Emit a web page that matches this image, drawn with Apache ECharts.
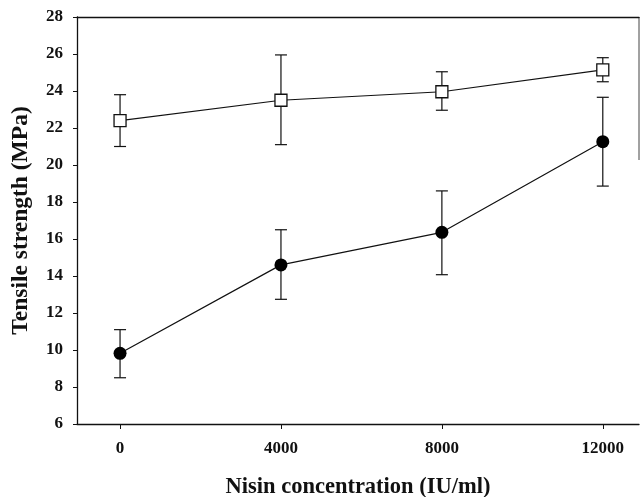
<!DOCTYPE html>
<html>
<head>
<meta charset="utf-8">
<script src="https://cdn.jsdelivr.net/npm/echarts@6/dist/echarts.min.js"></script>
<style>
  html, body { margin: 0; padding: 0; background: #fff; }
  #chart { width: 640px; height: 497px; }
</style>
</head>
<body>
<div id="chart"></div>
<script>
// nisin concentration (IU/ml)
var conc = [0, 4000, 8000, 12000];
// open squares
var sqMean = [22.4, 23.5, 23.96, 25.14];
var sqLow  = [21.0, 21.1, 22.96, 24.5];
var sqHigh = [23.8, 25.95, 25.04, 25.8];
// filled circles
var ciMean = [9.82, 14.6, 16.36, 21.26];
var ciLow  = [8.5, 12.74, 14.07, 18.86];
var ciHigh = [11.1, 16.5, 18.6, 23.66];
var xTicks = [0, 4000, 8000, 12000];

var chart = echarts.init(document.getElementById('chart'));

function pairs(xs, ys) {
  return xs.map(function (x, i) { return [x, ys[i]]; });
}
function errData(lo, hi) {
  return conc.map(function (x, i) { return [x, lo[i], hi[i]]; });
}
function errBars(params, api) {
  var x = api.value(0);
  var lo = api.coord([x, api.value(1)]);
  var hi = api.coord([x, api.value(2)]);
  var w = 6;
  var st = { stroke: '#111', lineWidth: 1.2 };
  return {
    type: 'group',
    children: [
      { type: 'line', shape: { x1: lo[0], y1: lo[1], x2: hi[0], y2: hi[1] }, style: st },
      { type: 'line', shape: { x1: lo[0] - w, y1: lo[1], x2: lo[0] + w, y2: lo[1] }, style: st },
      { type: 'line', shape: { x1: hi[0] - w, y1: hi[1], x2: hi[0] + w, y2: hi[1] }, style: st }
    ]
  };
}

var font = 'Liberation Serif';

var option = {
  animation: false,
  backgroundColor: '#fff',
  grid: { left: 77, top: 17, right: 1, bottom: 73, outerBoundsMode: 'none' },
  xAxis: [{
    type: 'value',
    min: -1070,
    max: 12900,
    splitLine: { show: false },
    axisLine: { onZero: false, lineStyle: { color: '#111', width: 1.3 } },
    axisTick: { customValues: xTicks, length: 5, lineStyle: { color: '#111' } },
    axisLabel: {
      customValues: xTicks, margin: 16,
      formatter: function (v) { return String(v); },
      color: '#111', fontFamily: font, fontWeight: 'bold', fontSize: 17
    },
    name: 'Nisin concentration (IU/ml)',
    nameLocation: 'middle',
    nameGap: 52,
    nameTextStyle: { color: '#111', fontFamily: font, fontWeight: 'bold', fontSize: 22.5 }
  }, {
    type: 'value', position: 'top', min: -1070, max: 12900,
    splitLine: { show: false }, axisTick: { show: false }, axisLabel: { show: false },
    axisLine: { show: true, onZero: false, lineStyle: { color: '#111', width: 1.3 } }
  }],
  yAxis: {
    type: 'value',
    min: 6,
    max: 28,
    interval: 2,
    splitLine: { show: false },
    axisLine: { show: true, onZero: false, lineStyle: { color: '#111', width: 1.3 } },
    axisTick: { show: true, length: 4, lineStyle: { color: '#111' } },
    axisLabel: { margin: 14, color: '#111', fontFamily: font, fontWeight: 'bold', fontSize: 17 },
    name: 'Tensile strength (MPa)',
    nameLocation: 'middle',
    nameGap: 44,
    nameTextStyle: { color: '#111', fontFamily: font, fontWeight: 'bold', fontSize: 23.5 }
  },
  graphic: [{
    type: 'line',
    shape: { x1: 639, y1: 17, x2: 639, y2: 160 },
    style: { stroke: '#444', lineWidth: 1 }
  }],
  series: [
    {
      type: 'custom', renderItem: errBars, data: errData(sqLow, sqHigh),
      encode: { x: 0, y: [1, 2] }, z: 1
    },
    {
      type: 'custom', renderItem: errBars, data: errData(ciLow, ciHigh),
      encode: { x: 0, y: [1, 2] }, z: 1
    },
    {
      type: 'line', data: pairs(conc, sqMean),
      symbol: 'rect', symbolSize: 12,
      itemStyle: { color: '#fff', borderColor: '#111', borderWidth: 1.3 },
      lineStyle: { color: '#111', width: 1.2 }, z: 3
    },
    {
      type: 'line', data: pairs(conc, ciMean),
      symbol: 'circle', symbolSize: 13,
      itemStyle: { color: '#000', borderColor: '#000', borderWidth: 0 },
      lineStyle: { color: '#111', width: 1.2 }, z: 3
    }
  ]
};
chart.setOption(option);
</script>
</body>
</html>
